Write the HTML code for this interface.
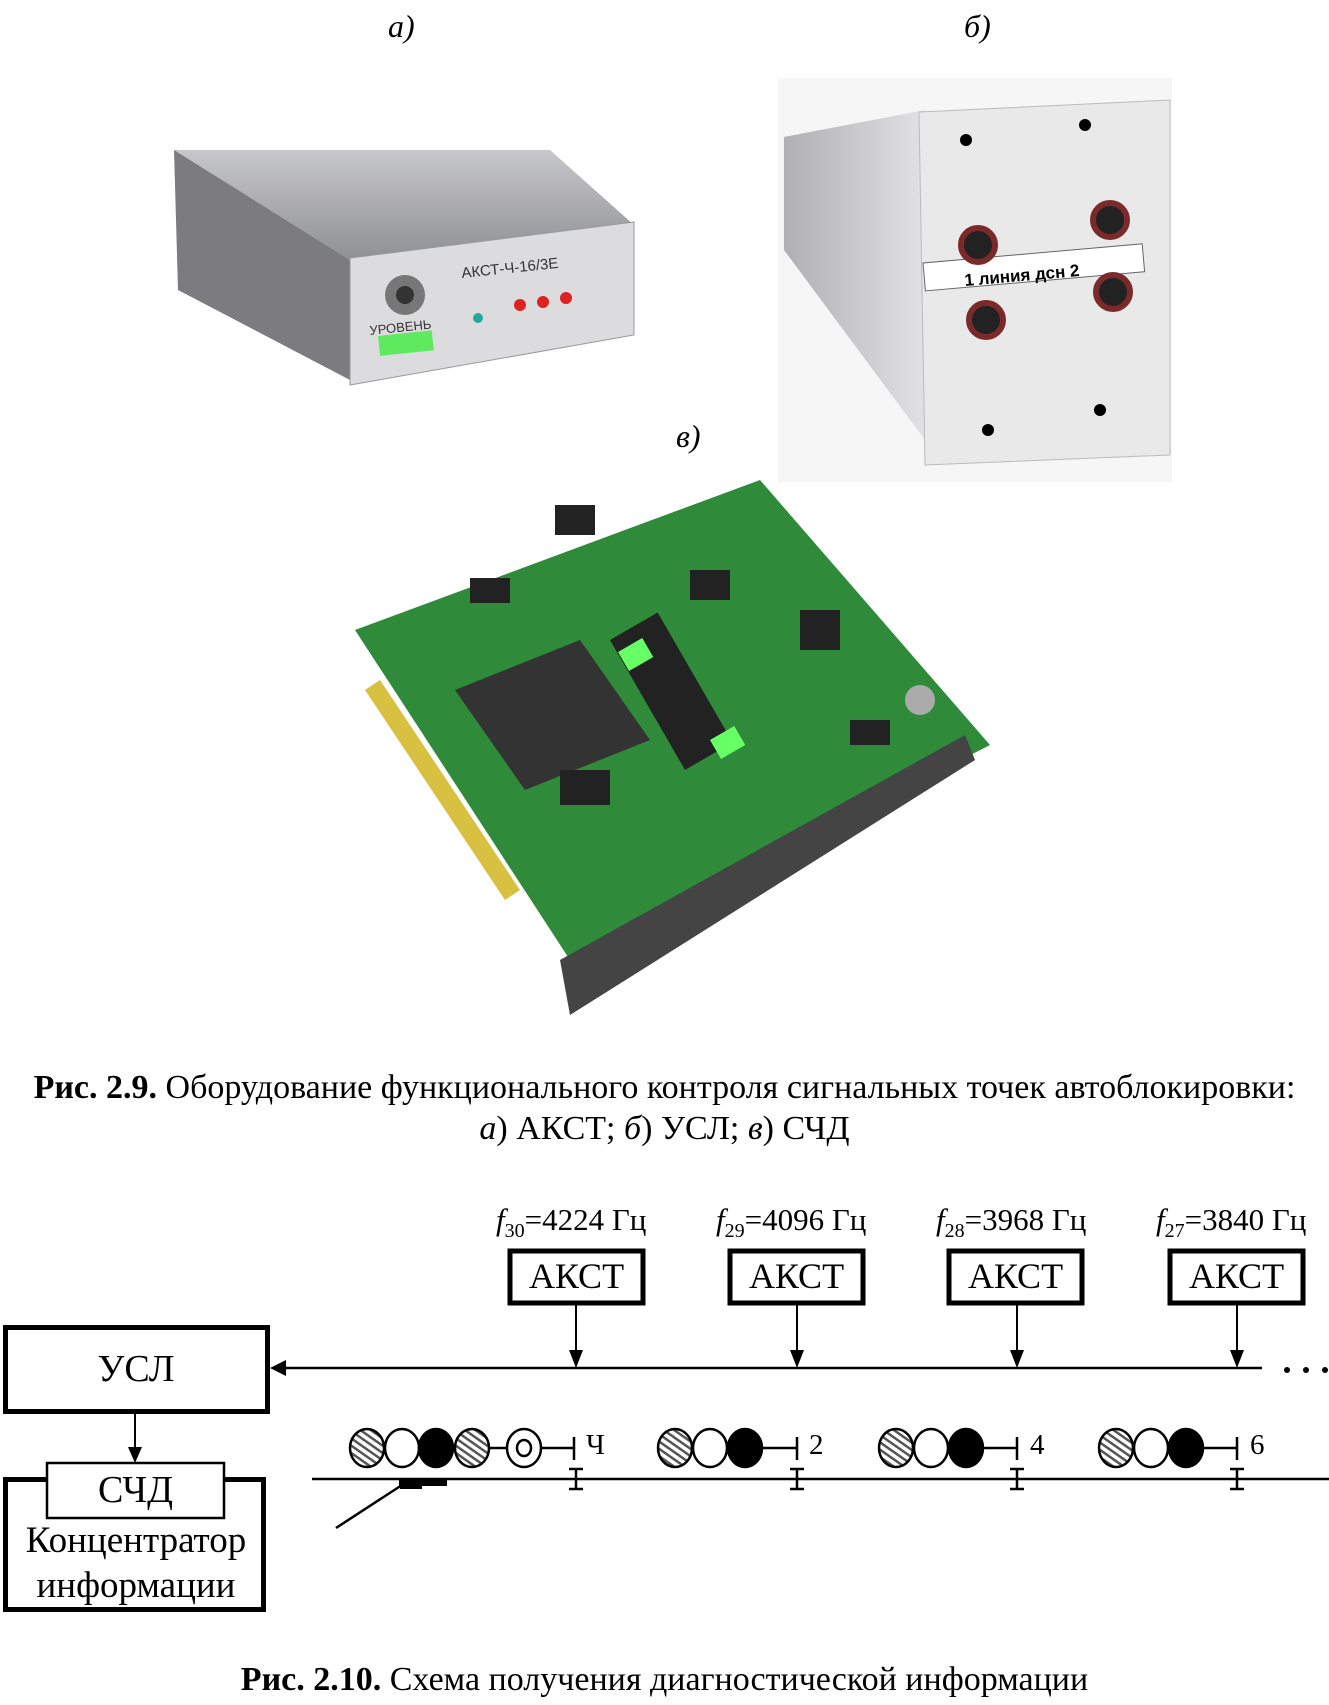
<!DOCTYPE html>
<html><head><meta charset="utf-8">
<style>
body{margin:0;width:1329px;height:1705px;background:#fff;position:relative;overflow:hidden;font-family:"Liberation Serif",serif;}
.t{position:absolute;color:#000;white-space:nowrap;}
</style></head><body>
<div class="t" style="left:388px;top:8px;font-size:32px;font-style:italic">а)</div>
<div class="t" style="left:964px;top:8px;font-size:32px;font-style:italic">б)</div>
<div class="t" style="left:676px;top:418px;font-size:32px;font-style:italic">в)</div>

<svg width="1329" height="1705" style="position:absolute;left:0;top:0">
<defs>
<linearGradient id="g1" x1="0" y1="0" x2="0" y2="1"><stop offset="0" stop-color="#c8c8cc"/><stop offset="1" stop-color="#8f9094"/></linearGradient>
<linearGradient id="g2" x1="0" y1="0" x2="1" y2="0"><stop offset="0" stop-color="#b0b0b4"/><stop offset="1" stop-color="#e2e2e4"/></linearGradient>
<pattern id="h" width="6" height="6" patternUnits="userSpaceOnUse" patternTransform="rotate(-55)"><rect width="6" height="6" fill="#fff"/><rect width="2.5" height="6" fill="#555"/></pattern>
</defs>
<!-- AKST device -->
<polygon points="174,150 550,150 634,225 350,260" fill="url(#g1)"/>
<polygon points="174,150 350,260 350,380 178,290" fill="#7c7c80"/>
<polygon points="350,258 634,222 634,335 350,385" fill="#dcdcde" stroke="#999"/>
<circle cx="405" cy="295" r="20" fill="#777"/><circle cx="405" cy="295" r="9" fill="#333"/>
<text x="462" y="278" font-family="Liberation Sans" font-size="15" fill="#333" transform="rotate(-6 462 278)">АКСТ-Ч-16/3Е</text>
<text x="370" y="335" font-family="Liberation Sans" font-size="13" fill="#333" transform="rotate(-6 370 335)">УРОВЕНЬ</text>
<rect x="378" y="336" width="54" height="20" fill="#5eea5e" transform="rotate(-6 378 336)"/>
<circle cx="478" cy="318" r="5" fill="#2a9"/><circle cx="520" cy="305" r="6" fill="#d22"/><circle cx="543" cy="302" r="6" fill="#d22"/><circle cx="566" cy="298" r="6" fill="#d22"/>
<!-- USL -->
<rect x="778" y="78" width="394" height="404" fill="#f6f6f6"/>
<polygon points="784,137 925,110 925,440 784,250" fill="url(#g2)"/>
<polygon points="919,112 1170,100 1170,455 925,465" fill="#e9e9ea" stroke="#bbb"/>
<circle cx="966" cy="140" r="6"/><circle cx="1085" cy="125" r="6"/><circle cx="988" cy="430" r="6"/><circle cx="1100" cy="410" r="6"/>
<rect x="923" y="263" width="220" height="28" fill="#fff" stroke="#666" transform="rotate(-5 923 263)"/>
<text x="965" y="286" font-family="Liberation Sans" font-size="17" font-weight="bold" transform="rotate(-5 965 286)">1   линия дсн  2</text>
<g fill="#222" stroke="#7a2a2a" stroke-width="6"><circle cx="978" cy="245" r="17"/><circle cx="1110" cy="220" r="17"/><circle cx="986" cy="320" r="17"/><circle cx="1113" cy="292" r="17"/></g>
<!-- board -->
<polygon points="355,630 760,480 990,745 570,960" fill="#2f8a3a"/>
<polygon points="365,690 380,680 520,890 505,900" fill="#d8c040"/>
<polygon points="560,960 965,735 975,760 570,1015" fill="#444"/>
<polygon points="455,690 580,640 650,740 525,790" fill="#333"/>
<rect x="610" y="640" width="55" height="150" fill="#222" transform="rotate(-30 610 640)"/>
<rect x="618" y="652" width="28" height="22" fill="#6f6" transform="rotate(-30 618 652)"/>
<rect x="710" y="740" width="28" height="22" fill="#6f6" transform="rotate(-30 710 740)"/>
<g fill="#222"><rect x="470" y="578" width="40" height="25"/><rect x="555" y="505" width="40" height="30"/><rect x="690" y="570" width="40" height="30"/><rect x="800" y="610" width="40" height="40"/><rect x="560" y="770" width="50" height="35"/><rect x="850" y="720" width="40" height="25"/></g>
<circle cx="920" cy="700" r="15" fill="#aaa"/>
<!-- bottom diagram -->
<g fill="none" stroke="#000">
<rect x="5.5" y="1327.5" width="262" height="84" stroke-width="5"/>
<rect x="5.5" y="1479.5" width="258" height="130" stroke-width="5"/>
<rect x="47" y="1463" width="177" height="55" fill="#fff" stroke-width="2.5"/>
<rect x="510" y="1251" width="133" height="52" stroke-width="5"/>
<rect x="730" y="1251" width="133" height="52" stroke-width="5"/>
<rect x="949" y="1251" width="133" height="52" stroke-width="5"/>
<rect x="1170" y="1251" width="133" height="52" stroke-width="5"/>
<line x1="280" y1="1368" x2="1262" y2="1368" stroke-width="2.5"/>
<line x1="576" y1="1305" x2="576" y2="1355" stroke-width="2"/>
<line x1="797" y1="1305" x2="797" y2="1355" stroke-width="2"/>
<line x1="1017" y1="1305" x2="1017" y2="1355" stroke-width="2"/>
<line x1="1237" y1="1305" x2="1237" y2="1355" stroke-width="2"/>
<line x1="135" y1="1414" x2="135" y2="1452" stroke-width="2"/>
<line x1="312" y1="1479" x2="1329" y2="1479" stroke-width="2.5"/>
<line x1="402" y1="1485" x2="336" y2="1528" stroke-width="2.5"/>
</g>
<g fill="#000">
<polygon points="270,1368 286,1360 286,1376"/>
<polygon points="576,1368 569,1350 583,1350"/>
<polygon points="797,1368 790,1350 804,1350"/>
<polygon points="1017,1368 1010,1350 1024,1350"/>
<polygon points="1237,1368 1230,1350 1244,1350"/>
<polygon points="135,1463 128,1447 142,1447"/>
<circle cx="1287" cy="1370" r="3"/><circle cx="1306" cy="1370" r="3"/><circle cx="1325" cy="1370" r="3"/>
<rect x="399" y="1478" width="48" height="8"/><rect x="400" y="1478" width="22" height="11"/>
</g>
<g stroke="#000" stroke-width="2.5">
<path d="M576 1469V1489M569 1469H583M569 1489H583"/>
<path d="M797 1469V1489M790 1469H804M790 1489H804"/>
<path d="M1017 1469V1489M1010 1469H1024M1010 1489H1024"/>
<path d="M1237 1469V1489M1230 1469H1244M1230 1489H1244"/>
</g>
<g stroke="#000" stroke-width="2.5">
<line x1="540" y1="1448" x2="574" y2="1448"/><line x1="574" y1="1437" x2="574" y2="1460"/>
<line x1="762" y1="1448" x2="797" y2="1448"/><line x1="797" y1="1437" x2="797" y2="1460"/>
<line x1="983" y1="1448" x2="1017" y2="1448"/><line x1="1017" y1="1437" x2="1017" y2="1460"/>
<line x1="1203" y1="1448" x2="1237" y2="1448"/><line x1="1237" y1="1437" x2="1237" y2="1460"/>
<line x1="490" y1="1448" x2="507" y2="1448"/>
<ellipse cx="367" cy="1448" rx="17" ry="19" fill="url(#h)"/><ellipse cx="402" cy="1448" rx="17" ry="19" fill="#fff"/><ellipse cx="436" cy="1448" rx="17" ry="19" fill="#000"/><ellipse cx="472" cy="1448" rx="17" ry="19" fill="url(#h)"/>
<ellipse cx="524" cy="1448" rx="17" ry="19" fill="#fff"/><ellipse cx="524" cy="1448" rx="7" ry="8" fill="#fff"/>
<ellipse cx="675" cy="1448" rx="17" ry="19" fill="url(#h)"/><ellipse cx="710" cy="1448" rx="17" ry="19" fill="#fff"/><ellipse cx="745" cy="1448" rx="17" ry="19" fill="#000"/>
<ellipse cx="896" cy="1448" rx="17" ry="19" fill="url(#h)"/><ellipse cx="931" cy="1448" rx="17" ry="19" fill="#fff"/><ellipse cx="966" cy="1448" rx="17" ry="19" fill="#000"/>
<ellipse cx="1116" cy="1448" rx="17" ry="19" fill="url(#h)"/><ellipse cx="1151" cy="1448" rx="17" ry="19" fill="#fff"/><ellipse cx="1186" cy="1448" rx="17" ry="19" fill="#000"/>
</g>
</svg>

<div class="t" style="left:0;width:1329px;text-align:center;top:1069px;font-size:34px"><b>Рис. 2.9.</b> Оборудование функционального контроля сигнальных точек автоблокировки:</div>
<div class="t" style="left:0;width:1329px;text-align:center;top:1110px;font-size:34px"><i>а</i>) АКСТ; <i>б</i>) УСЛ; <i>в</i>) СЧД</div>

<div class="t" style="left:496px;top:1202px;font-size:31px"><i>f</i><sub style="font-size:20px">30</sub>=4224 Гц</div>
<div class="t" style="left:716px;top:1202px;font-size:31px"><i>f</i><sub style="font-size:20px">29</sub>=4096 Гц</div>
<div class="t" style="left:936px;top:1202px;font-size:31px"><i>f</i><sub style="font-size:20px">28</sub>=3968 Гц</div>
<div class="t" style="left:1156px;top:1202px;font-size:31px"><i>f</i><sub style="font-size:20px">27</sub>=3840 Гц</div>
<div class="t" style="left:510px;width:133px;text-align:center;top:1255px;font-size:36px">АКСТ</div>
<div class="t" style="left:730px;width:133px;text-align:center;top:1255px;font-size:36px">АКСТ</div>
<div class="t" style="left:949px;width:133px;text-align:center;top:1255px;font-size:36px">АКСТ</div>
<div class="t" style="left:1170px;width:133px;text-align:center;top:1255px;font-size:36px">АКСТ</div>
<div class="t" style="left:5px;width:262px;text-align:center;top:1347px;font-size:38px">УСЛ</div>
<div class="t" style="left:47px;width:177px;text-align:center;top:1468px;font-size:38px">СЧД</div>
<div class="t" style="left:5px;width:262px;text-align:center;top:1518px;font-size:37px;line-height:45px">Концентратор<br>информации</div>
<div class="t" style="left:586px;top:1429px;font-size:29px">Ч</div>
<div class="t" style="left:809px;top:1429px;font-size:29px">2</div>
<div class="t" style="left:1030px;top:1429px;font-size:29px">4</div>
<div class="t" style="left:1250px;top:1429px;font-size:29px">6</div>
<div class="t" style="left:0;width:1329px;text-align:center;top:1661px;font-size:34px"><b>Рис. 2.10.</b> Схема получения диагностической информации</div>
</body></html>
